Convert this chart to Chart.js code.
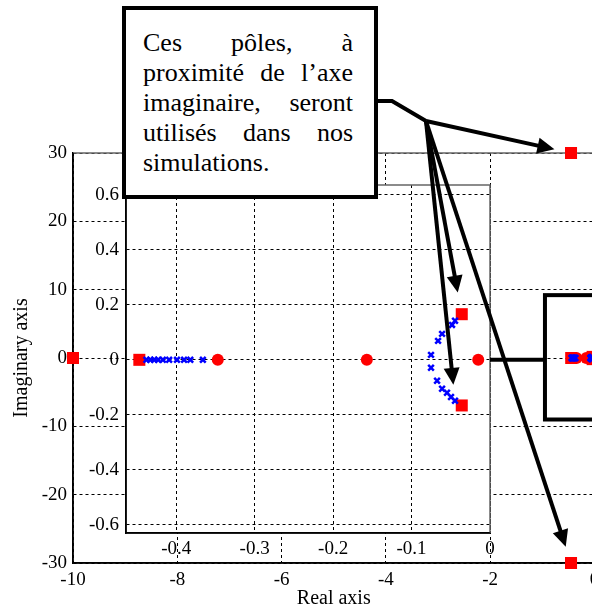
<!DOCTYPE html>
<html>
<head>
<meta charset="utf-8">
<script src="https://cdn.jsdelivr.net/npm/chart.js@4"></script>
<style>
html, body { margin: 0; padding: 0; width: 592px; height: 611px; overflow: hidden; background: #fff; }
canvas { position: absolute; left: 0; top: 0; }
#inner { top: 160px; }
#note { position: absolute; left: 122px; top: 6px; width: 256px; height: 193px; box-sizing: border-box;
  border: 4px solid #000; background: #fff; }
#note p { position: absolute; left: 17px; top: 18px; width: 210px; margin: 0; color: #000;
  font: 26px/30px "Liberation Serif", serif; text-align: justify; }
</style>
</head>
<body>
<canvas id="outer" width="620" height="611"></canvas>
<canvas id="inner" width="520" height="410"></canvas>
<canvas id="marks" width="592" height="611"></canvas>
<div id="note"><p>Ces pôles, à proximité de l’axe imaginaire, seront utilisés dans nos simulations.</p></div>
<script>
// poles (red squares), zeros (red circles), locus (blue crosses)
const poleRe = [-10, -0.447, -0.036, -0.036, -0.45, -0.45];
const poleIm = [0, 0, 0.166, -0.166, 30, -30];
const zeroRe = [-0.347, -0.157, -0.015];
const zeroIm = [0, 0, 0];
const locusRe = [-0.438, -0.433, -0.428, -0.423, -0.417, -0.409, -0.399, -0.390, -0.382, -0.366,
  -0.0446, -0.0484, -0.0611, -0.0662, -0.0752,
  -0.0752, -0.0675, -0.0611, -0.0548, -0.0497, -0.0446];
const locusIm = [0, 0, 0, 0, 0, 0, 0, 0, 0, 0,
  0.142, 0.127, 0.0945, 0.069, 0.018,
  -0.029, -0.076, -0.105, -0.12, -0.135, -0.149];

const outerXTicks = [-10, -8, -6, -4, -2, 0];
const outerYTicks = [-30, -20, -10, 0, 10, 20, 30];
const innerXTicks = [-0.4, -0.3, -0.2, -0.1, 0];
const innerYTicks = [-0.6, -0.4, -0.2, 0, 0.2, 0.4, 0.6];

const pts = (re, im) => re.map((v, i) => ({x: v, y: im[i]}));
const tickFont = {family: 'Liberation Serif', size: 19};
const titleFont = {family: 'Liberation Serif', size: 20};

function datasets(clip) {
  return [
    {data: pts(locusRe, locusIm), pointStyle: 'crossRot', pointRadius: 4, borderWidth: 2.5,
      borderColor: '#0000ff', backgroundColor: '#0000ff', clip: clip},
    {data: pts(zeroRe, zeroIm), pointStyle: 'circle', pointRadius: 6, borderWidth: 0,
      backgroundColor: '#ff0000', borderColor: '#ff0000', clip: clip},
    {data: pts(poleRe, poleIm), pointStyle: 'rect', pointRadius: 8.5, borderWidth: 0,
      backgroundColor: '#ff0000', borderColor: '#ff0000', clip: clip}
  ];
}

function axis(ticks, min, max, extra) {
  return Object.assign({
    type: 'linear', min: min, max: max,
    afterBuildTicks: s => { s.ticks = ticks.map(v => ({value: v})); },
    grid: {color: '#000', lineWidth: 1, drawTicks: false},
    border: {display: true, color: '#000', width: 1.5, dash: [3, 3]},
    ticks: {color: '#000', font: tickFont, autoSkip: false, maxRotation: 0, callback: v => String(v)}
  }, extra);
}

// white plot area + solid frame round it
const frame = {
  id: 'frame',
  beforeDraw(c, args, o) {
    if (!o.fill) return;
    const a = c.chartArea;
    c.ctx.save();
    c.ctx.fillStyle = '#fff';
    c.ctx.fillRect(a.left, a.top, a.right - a.left, a.bottom - a.top);
    c.ctx.restore();
  },
  beforeDatasetsDraw(c) {
    const a = c.chartArea, ctx = c.ctx;
    ctx.save();
    ctx.lineWidth = 1.5;
    ctx.strokeStyle = '#666';
    ctx.beginPath();
    ctx.moveTo(a.left, a.top);
    ctx.lineTo(a.right, a.top);
    ctx.lineTo(a.right, a.bottom);
    ctx.stroke();
    ctx.strokeStyle = '#000';
    ctx.beginPath();
    ctx.moveTo(a.left, a.top);
    ctx.lineTo(a.left, a.bottom);
    ctx.lineTo(a.right, a.bottom);
    ctx.stroke();
    ctx.restore();
  }
};

const outerChart = new Chart(document.getElementById('outer'), {
  type: 'scatter',
  data: {datasets: datasets(false)},
  plugins: [frame],
  options: {
    responsive: false, animation: false,
    layout: {padding: {left: 0, right: 25.5, top: 153, bottom: 0}},
    plugins: {legend: {display: false}, tooltip: {enabled: false}, frame: {fill: false}},
    scales: {
      x: axis(outerXTicks, -10, 0, {
        afterFit: s => { s.height = 48; },
        title: {display: true, text: 'Real axis', color: '#000', font: titleFont, padding: 0}
      }),
      y: axis(outerYTicks, -30, 30, {
        afterFit: s => { s.width = 73; },
        title: {display: true, text: 'Imaginary axis', color: '#000', font: titleFont, padding: {top: 10, bottom: 0}}
      })
    }
  }
});
outerChart.options.scales.x.ticks.padding = 6;
outerChart.options.scales.y.ticks.padding = 6;
outerChart.update();

const innerChart = new Chart(document.getElementById('inner'), {
  type: 'scatter',
  data: {datasets: datasets(undefined)},
  plugins: [frame],
  options: {
    responsive: false, animation: false,
    layout: {padding: {left: 0, right: 30, top: 25, bottom: 0}},
    plugins: {legend: {display: false}, tooltip: {enabled: false}, frame: {fill: true}},
    scales: {
      x: axis(innerXTicks, -0.464, 0, {afterFit: s => { s.height = 37; }}),
      y: axis(innerYTicks, -0.63, 0.636, {afterFit: s => { s.width = 126; }})
    }
  }
});
innerChart.options.scales.x.ticks.padding = 5;
innerChart.options.scales.y.ticks.padding = 7;
innerChart.update();

// annotations: zoom box, connector and arrows
const innerTop = document.getElementById('inner').offsetTop;
const outerPt = (re, im) => [outerChart.scales.x.getPixelForValue(re), outerChart.scales.y.getPixelForValue(im)];
const innerPt = (re, im) => [innerChart.scales.x.getPixelForValue(re), innerChart.scales.y.getPixelForValue(im) + innerTop];

const ctx = document.getElementById('marks').getContext('2d');
ctx.strokeStyle = '#000';
ctx.fillStyle = '#000';
ctx.lineWidth = 4;

const b0 = outerPt(-0.95, 9.2), b1 = outerPt(1, -9);
ctx.strokeRect(b0[0], b0[1], b1[0] - b0[0], b1[1] - b0[1]);

const origin = innerPt(0, 0);
ctx.beginPath();
ctx.moveTo(origin[0], origin[1]);
ctx.lineTo(b0[0], origin[1]);
ctx.stroke();

const hub = [426, 121];
ctx.beginPath();
ctx.moveTo(376, 101);
ctx.lineTo(392, 101);
ctx.lineTo(hub[0], hub[1]);
ctx.stroke();

function arrow(target, gap) {
  const dx = target[0] - hub[0], dy = target[1] - hub[1];
  const len = Math.hypot(dx, dy), ux = dx / len, uy = dy / len;
  const tx = target[0] - ux * gap, ty = target[1] - uy * gap;
  const hl = 17, hw = 8;
  ctx.beginPath();
  ctx.moveTo(hub[0], hub[1]);
  ctx.lineTo(tx - ux * hl * 0.8, ty - uy * hl * 0.8);
  ctx.stroke();
  ctx.beginPath();
  ctx.moveTo(tx, ty);
  ctx.lineTo(tx - ux * hl - uy * hw, ty - uy * hl + ux * hw);
  ctx.lineTo(tx - ux * hl + uy * hw, ty - uy * hl - ux * hw);
  ctx.closePath();
  ctx.fill();
}
arrow(outerPt(poleRe[4], poleIm[4]), 17);
arrow(innerPt(poleRe[2], poleIm[2]), 22);
arrow(innerPt(locusRe[20], locusIm[20]), 16);
arrow(outerPt(poleRe[5], poleIm[5]), 17);
</script>
</body>
</html>
